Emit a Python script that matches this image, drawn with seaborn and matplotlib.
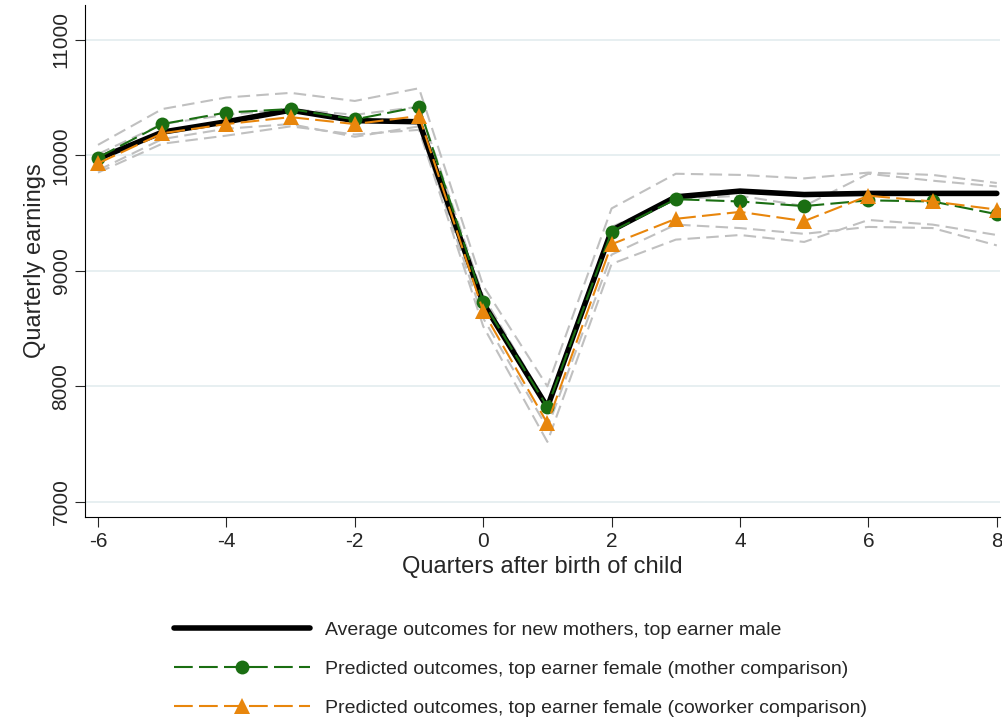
import matplotlib
matplotlib.use("Agg")
import matplotlib.pyplot as plt
import seaborn as sns

quarters = list(range(-6, 9))
avg_male = [9970, 10200, 10290, 10390, 10300, 10290, 8720, 7820, 9350, 9640, 9690, 9660, 9670, 9670, 9670]
pred_mother = [9980, 10270, 10370, 10400, 10310, 10420, 8730, 7820, 9340, 9620, 9600, 9560, 9610, 9600, 9490]
pred_cowork = [9930, 10190, 10270, 10330, 10270, 10340, 8650, 7680, 9230, 9450, 9510, 9430, 9650, 9600, 9530]
mother_hi = [10090, 10400, 10500, 10540, 10470, 10580, 8870, 8000, 9540, 9840, 9830, 9800, 9850, 9830, 9760]
mother_lo = [9870, 10140, 10230, 10270, 10160, 10250, 8590, 7640, 9140, 9400, 9370, 9320, 9380, 9370, 9220]
cowork_hi = [10010, 10270, 10350, 10400, 10350, 10420, 8780, 7840, 9380, 9620, 9650, 9560, 9840, 9780, 9730]
cowork_lo = [9850, 10100, 10170, 10250, 10180, 10220, 8520, 7520, 9060, 9270, 9310, 9250, 9440, 9400, 9310]
x_ticks = [-6, -4, -2, 0, 2, 4, 6, 8]

sns.set_style("white")
plt.rcParams["font.family"] = ["Liberation Sans", "DejaVu Sans"]
plt.rcParams["axes.unicode_minus"] = False

fig = plt.figure(figsize=(10.02, 7.21), dpi=100)
ax = fig.add_axes([0.085, 0.283, 0.913, 0.71])

for band in [mother_hi, mother_lo, cowork_hi, cowork_lo]:
    sns.lineplot(x=quarters, y=band, ax=ax, color="#c0c0c0", lw=1.5,
                 linestyle=(0, (6, 3)), zorder=1)
sns.lineplot(x=quarters, y=avg_male, ax=ax, color="black", lw=4, zorder=3,
             label="Average outcomes for new mothers, top earner male")
sns.lineplot(x=quarters, y=pred_mother, ax=ax, color="#1a6e12", lw=1.5,
             linestyle=(0, (9, 3)), marker="o", markersize=10, markeredgewidth=0,
             zorder=4, label="Predicted outcomes, top earner female (mother comparison)")
sns.lineplot(x=quarters, y=pred_cowork, ax=ax, color="#e8860c", lw=1.5,
             linestyle=(0, (9, 3)), marker="^", markersize=11, markeredgewidth=0,
             zorder=5, label="Predicted outcomes, top earner female (coworker comparison)")

ax.set_xlim(-6.2, 8.05)
ax.set_ylim(6870, 11300)
ax.set_xticks(x_ticks)
ax.set_yticks(range(7000, 11001, 1000))
ax.tick_params(axis="both", labelsize=15, length=7, direction="out", left=True, bottom=True)
for lab in ax.get_yticklabels():
    lab.set_rotation(90)
    lab.set_va("center")
ax.yaxis.grid(True, color="#e3ecef", lw=1.2)
ax.set_axisbelow(True)
for s in ["top", "right"]:
    ax.spines[s].set_visible(False)
ax.spines["left"].set_color("black")
ax.spines["bottom"].set_color("black")
ax.set_xlabel("Quarters after birth of child", fontsize=17, labelpad=4)
ax.set_ylabel("Quarterly earnings", fontsize=17, labelpad=4)

ax.legend(loc="upper center", bbox_to_anchor=(0.476, -0.17), frameon=False,
          fontsize=14, handlelength=7, labelspacing=1.1)

fig.savefig("out.png", dpi=100)
